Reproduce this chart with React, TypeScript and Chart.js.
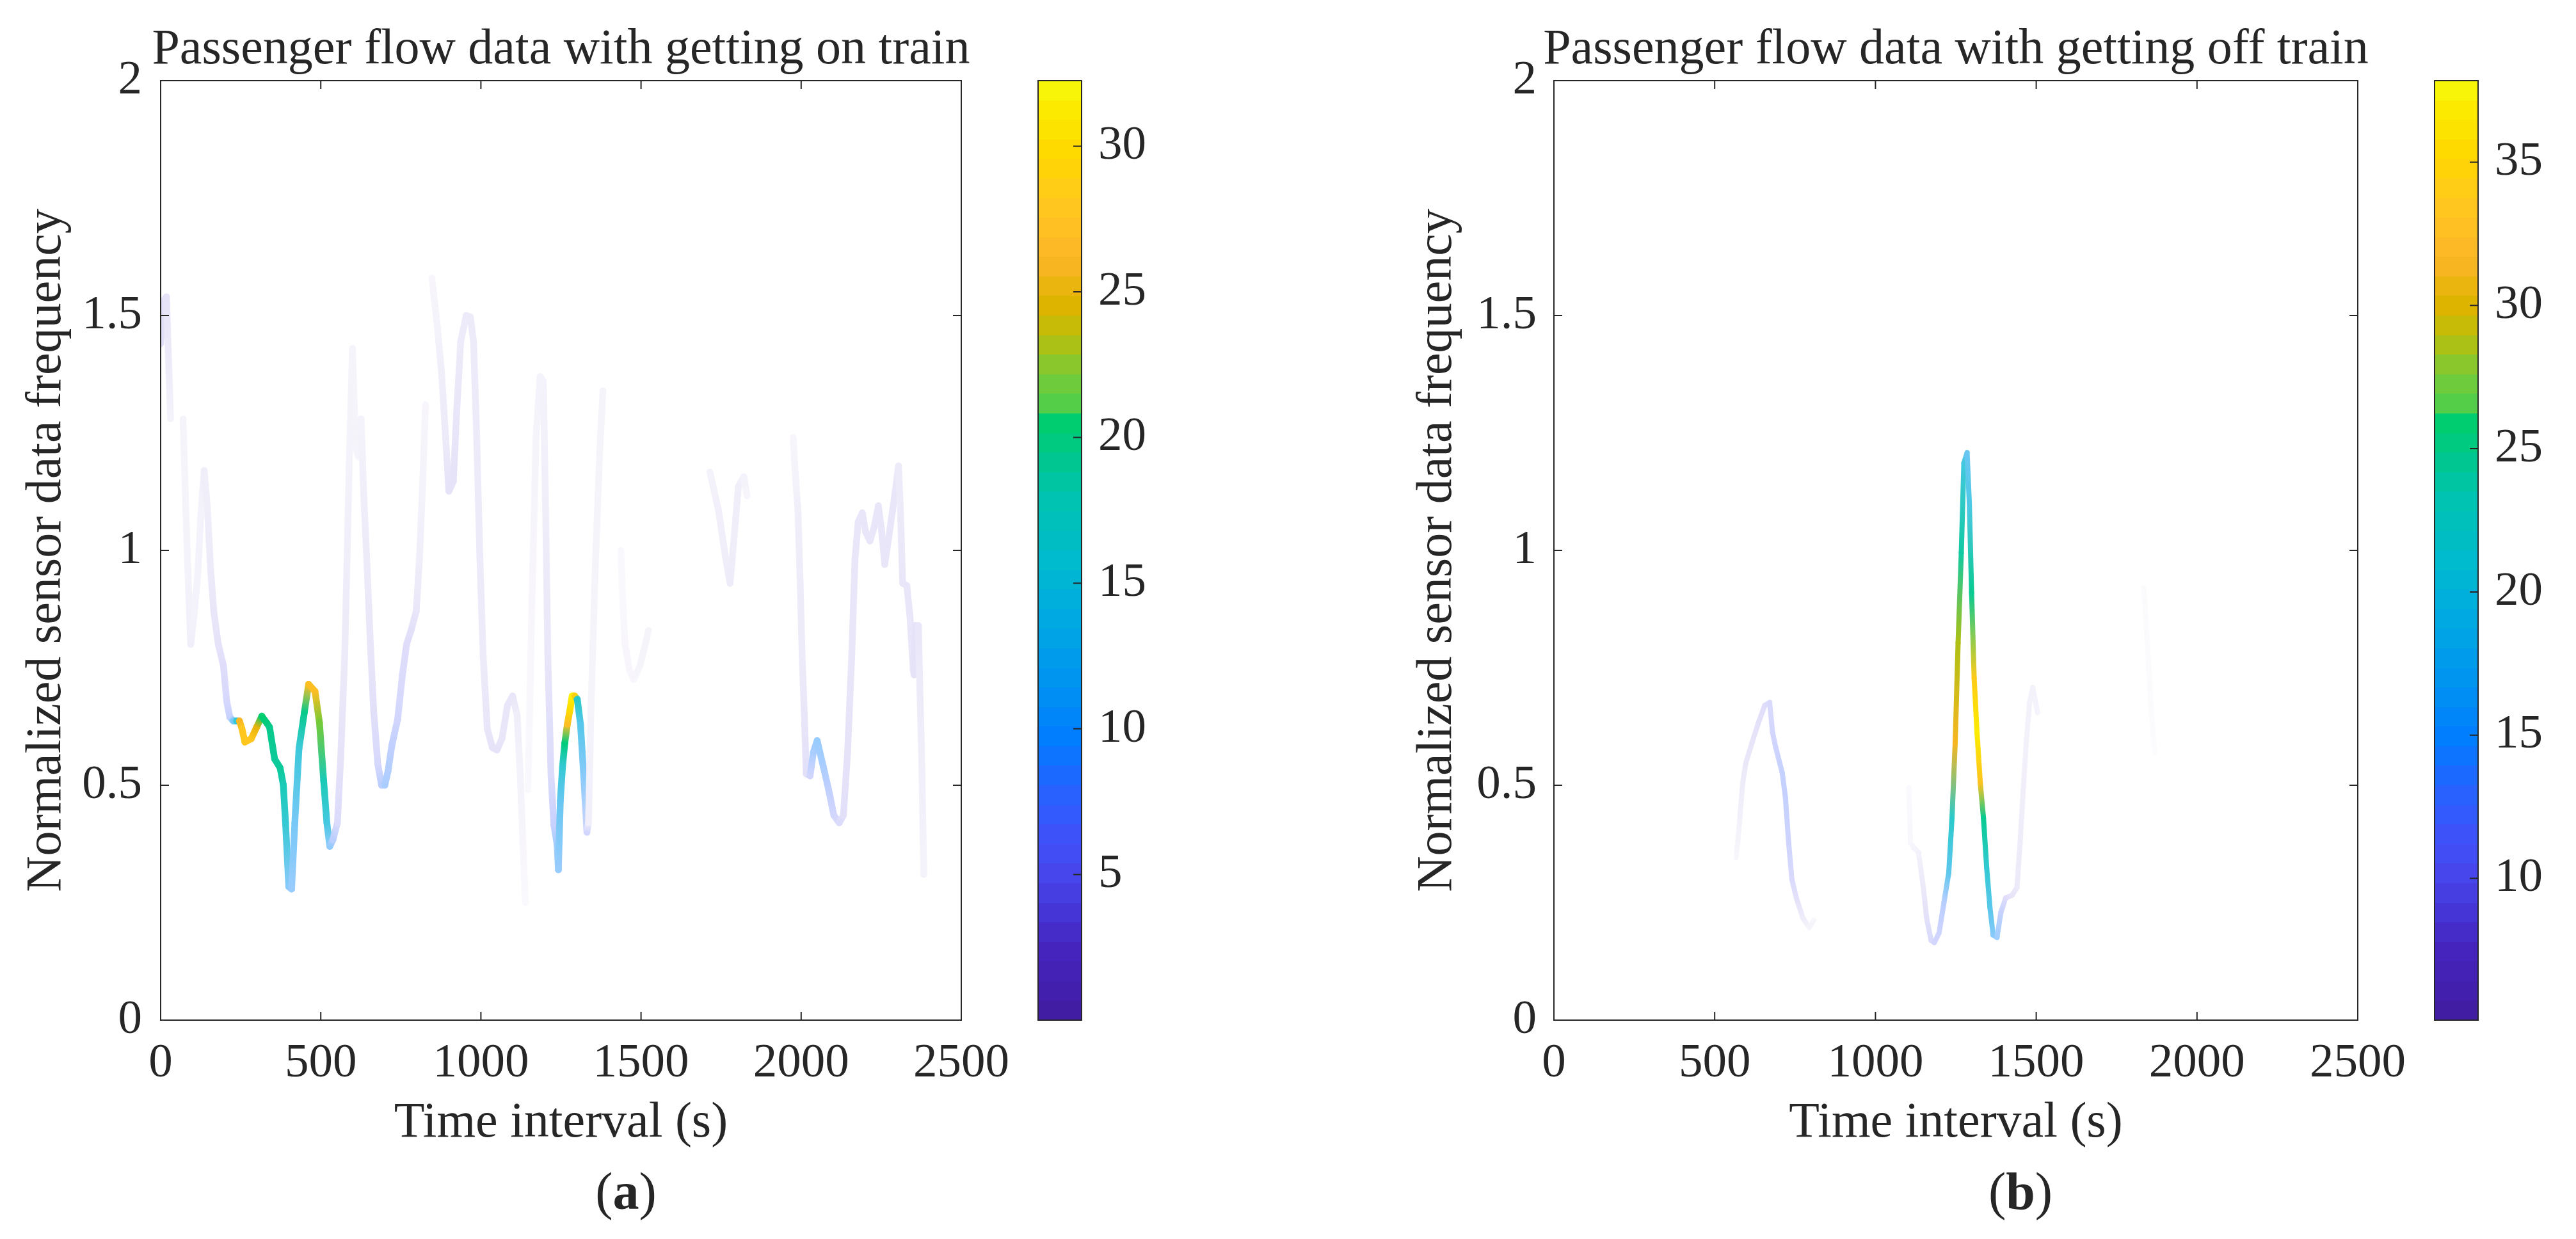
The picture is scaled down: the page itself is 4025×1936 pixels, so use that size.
import React, { useEffect, useRef } from 'react';
import { Chart, registerables } from 'chart.js';

Chart.register(...registerables);

const SERIF = '"Liberation Serif", "Times New Roman", Times, serif';
const INK = '#262626';

// ---------- axes ----------
const xTickValues = [0, 500, 1000, 1500, 2000, 2500];
const yTickValues = [0, 0.5, 1, 1.5, 2];

// ---------- (a) getting on train : time (s), normalized frequency, passenger count (colour) ----------
// null marks a break in the curve
const onTime = [
  0, 8, 18, 24, 31, 50,
  70, 78, 86, 94, 104, 116, 126, 136, 146, 156, 166, 180, 196, 206, 216, 227, 237, 246, 254, 263, 283, 300,
  316, 332, 340, 356, 373, 383, 390, 400, 409, 419, 432, 449, 462, 482, 496, 509, 519, 528, 538, 552, 562,
  575, 582, 589, 599, 609, 618, 626, 634, 645, 655, 665, 678, 690, 700, 710, 722, 740, 755, 768, 782, 798,
  808, 818, 827, 837,
  847, 864, 877, 890, 900, 914, 924, 937, 954, 967, 977, 987, 997, 1007, 1020, 1036, 1050, 1066, 1083,
  1099, 1113, 1123, 1132, 1139, 1143,
  1147, 1159, 1172, 1185, 1195, 1202, 1209, 1219, 1228, 1238, 1242, 1248, 1255, 1262, 1270, 1278, 1285,
  1293, 1301, 1311, 1321, 1331, 1336, 1344, 1358, 1371, 1381, 1400,
  1437, 1444, 1450, 1464, 1477, 1497, 1517, 1523, 1600,
  1715, 1742, 1765, 1778, 1791, 1804, 1821, 1831, 1900,
  1975, 1983, 1990, 1997, 2003, 2010, 2016, 2028, 2038, 2050, 2069, 2086, 2102, 2119, 2132, 2145, 2158,
  2168, 2178, 2191, 2201, 2215, 2228, 2241, 2251, 2261, 2274, 2294, 2304, 2310, 2317, 2330, 2340, 2350,
  2353, 2356, 2366, 2370, 2376, 2383,
];
const onFreq = [
  1.44, 1.53, 1.54, 1.42, 1.28, null,
  1.28, 1.10, 0.94, 0.80, 0.86, 0.95, 1.08, 1.17, 1.09, 0.96, 0.87, 0.80, 0.755, 0.68, 0.645, 0.637, 0.637, 0.637, 0.62, 0.592, 0.599, 0.624,
  0.647, 0.632, 0.624, 0.556, 0.537, 0.501, 0.42, 0.284, 0.279, 0.42, 0.578, 0.656, 0.715, 0.70, 0.633, 0.51, 0.42, 0.37, 0.384, 0.42, 0.556,
  0.78, 0.98, 1.19, 1.43, 1.22, 1.20, 1.28, 1.12, 0.96, 0.80, 0.66, 0.545, 0.50, 0.50, 0.53, 0.585, 0.64, 0.735, 0.80, 0.83, 0.87,
  0.98, 1.14, 1.31, null,
  1.58, 1.476, 1.38, 1.24, 1.126, 1.147, 1.29, 1.445, 1.50, 1.497, 1.445, 1.24, 0.98, 0.776, 0.62, 0.58, 0.575, 0.60, 0.67,
  0.69, 0.65, 0.52, 0.364, 0.25, null,
  0.49, 0.88, 1.24, 1.37, 1.36, 1.085, 0.776, 0.52, 0.415, 0.374, 0.32, 0.467, 0.54, 0.59, 0.63, 0.66, 0.69,
  0.69, 0.683, 0.63, 0.52, 0.40, 0.42, 0.67, 0.98, 1.21, 1.34, null,
  1.0, 0.88, 0.80, 0.745, 0.725, 0.755, 0.81, 0.83, null,
  1.167, 1.085, 0.98, 0.93, 1.03, 1.136, 1.157, 1.116, null,
  1.24, 1.15, 1.085, 0.93, 0.776, 0.65, 0.524, 0.52, 0.57, 0.595, 0.54, 0.49, 0.436, 0.42, 0.436, 0.57, 0.776,
  0.98, 1.06, 1.08, 1.04, 1.02, 1.05, 1.095, 1.044, 0.97, 1.03, 1.126, 1.18, 1.085, 0.93, 0.925, 0.858, 0.745,
  0.735, 0.84, 0.84, 0.725, 0.57, 0.31,
];
const onCount = [
  4, 4, 3.5, 2.5, 1.5, null,
  1.2, 1.2, 1.5, 2, 1.5, 1.5, 1.5, 2, 2, 2.5, 3, 3.5, 4.5, 5.5, 7, 12, 16, 26, 28, 28, 28, 25,
  20.5, 20, 19.5, 19, 19, 18, 16, 11, 10, 12, 15.5, 19.5, 27, 27, 22, 18, 15, 10.5, 8, 5, 3.5,
  2.5, 2, 1.5, 1.2, 1.2, 1.4, 1.5, 2, 2.5, 3, 4, 5.5, 8, 9, 8.5, 7.5, 6, 5, 4.5, 4, 3,
  2, 1.5, 1, null,
  1, 1.5, 2, 2.5, 3.5, 3.5, 3, 2.5, 2.5, 2.5, 2.5, 2.5, 2.5, 2.5, 3, 3.5, 3.5, 3, 3,
  3, 2, 1.5, 1, 0.7, null,
  0.8, 1, 1.2, 1.5, 1.5, 2, 3, 5, 7, 9.5, 10, 13, 16, 20, 27, 30, 31.5,
  29, 17, 14, 11, 6, 2, 1.2, 1.2, 1.2, 1.2, null,
  0.8, 0.8, 1, 1, 1, 1.2, 1.2, 1.2, null,
  1.5, 1.8, 2, 2.2, 2, 2, 1.5, 1, null,
  1, 1.5, 2, 2.2, 2.5, 3, 4, 6, 9, 10, 9, 7.5, 6, 5, 4, 3.5, 3,
  3, 3, 3, 3, 3, 3, 3, 3, 3, 3, 3, 2.5, 2.5, 3, 3, 3, 3,
  3.5, 3.5, 3, 2.5, 2, 1.5,
];

// ---------- (b) getting off train ----------
const offTime = [
  567, 577, 587, 597, 616, 636, 656, 671, 680, 690, 710, 720, 730, 740, 754, 774, 794, 809, 950,
  1104, 1109, 1119, 1134, 1149, 1159, 1173, 1183, 1198, 1213, 1228, 1238, 1248, 1257, 1267, 1275, 1285,
  1292, 1299, 1307, 1316, 1326, 1336, 1346, 1356, 1366, 1378, 1390, 1405, 1425, 1440, 1450, 1459, 1469,
  1479, 1489, 1504, 1700,
  1834, 1842, 1850, 1858, 1868,
];
const offFreq = [
  0.346, 0.42, 0.505, 0.548, 0.59, 0.633, 0.67, 0.676, 0.612, 0.58, 0.527, 0.474, 0.378, 0.30, 0.26, 0.218, 0.197, 0.213, null,
  0.495, 0.378, 0.367, 0.357, 0.282, 0.218, 0.17, 0.165, 0.186, 0.25, 0.314, 0.43, 0.59, 0.803, 0.995, 1.186, 1.208,
  1.10, 0.91, 0.728, 0.611, 0.505, 0.43, 0.324, 0.24, 0.181, 0.176, 0.229, 0.26, 0.266, 0.282, 0.378, 0.484, 0.59,
  0.675, 0.708, 0.655, null,
  0.92, 0.85, 0.75, 0.66, 0.57,
];
const offCount = [
  6.0, 6.7, 7.3, 8.0, 8.3, 9.0, 9.6, 10.3, 11.0, 11.6, 12.3, 12.3, 11.6, 10.3, 9.0, 7.3, 6.4, 6.0, null,
  5.7, 6.0, 6.4, 6.7, 7.7, 9.0, 10.3, 11.0, 11.6, 13.3, 18.8, 22.1, 31.3, 28.7, 24.1, 20.5, 18.2,
  19.8, 24.7, 33.9, 36.9, 32.9, 24.7, 21.5, 19.2, 16.5, 14.9, 12.3, 9.6, 8.3, 7.7, 7.3, 7.0, 6.7,
  6.7, 6.7, 6.4, null,
  5.6, 5.6, 5.6, 5.6, 5.5,
];

// ---------- colour bars ----------
const onColorRange = [0, 32.25];
const offColorRange = [5.05, 37.85];
const onColorTicks = [5, 10, 15, 20, 25, 30];
const offColorTicks = [10, 15, 20, 25, 30, 35];

// colormap anchors (position 0 = bottom of the colour bar)
const cmapPos = [0, 0.075, 0.15, 0.2, 0.25, 0.3, 0.36, 0.43, 0.49, 0.55, 0.6, 0.655, 0.656, 0.694, 0.73, 0.764, 0.81, 0.87, 0.92, 0.97, 1];
const cmapRGB = [
  [64, 28, 160], [68, 36, 190], [72, 68, 235], [60, 84, 250], [35, 100, 255], [0, 125, 255], [0, 148, 240],
  [0, 170, 225], [0, 186, 205], [0, 195, 180], [0, 200, 140], [0, 208, 96], [84, 206, 72], [130, 200, 48],
  [190, 190, 10], [225, 180, 0], [252, 182, 40], [255, 200, 30], [255, 215, 0], [252, 236, 0], [248, 250, 12],
];
// opacity of the curve as a function of the normalised colour value
const alphaPos = [0, 0.3, 0.5, 0.62, 1];
const alphaVal = [0, 0.38, 0.8, 1, 1];

function interp1(xs: number[], ys: number[], x: number) {
  if (x <= xs[0]) return ys[0];
  for (let i = 1; i < xs.length; i++) {
    if (x <= xs[i]) {
      const t = (x - xs[i - 1]) / (xs[i] - xs[i - 1]);
      return ys[i - 1] + (ys[i] - ys[i - 1]) * t;
    }
  }
  return ys[ys.length - 1];
}

function cmap(f: number): number[] {
  const x = Math.max(0, Math.min(1, f));
  let i = 1;
  while (i < cmapPos.length - 1 && x > cmapPos[i]) i++;
  const t = (x - cmapPos[i - 1]) / (cmapPos[i] - cmapPos[i - 1] || 1);
  const a = cmapRGB[i - 1], b = cmapRGB[i];
  return [0, 1, 2].map((k) => a[k] + (b[k] - a[k]) * Math.max(0, Math.min(1, t)));
}

function lineColor(c: number, range: number[]) {
  const f = (c - range[0]) / (range[1] - range[0]);
  const rgb = cmap(f);
  const al = interp1(alphaPos, alphaVal, Math.max(0, Math.min(1, f)));
  const m = rgb.map((v) => Math.round(255 + (v - 255) * al));
  return `rgb(${m[0]},${m[1]},${m[2]})`;
}

// ---------- plugins ----------
const panelDecor = {
  id: 'panelDecor',
  afterDatasetsDraw(chart: any, _args: any, opts: any) {
    const { ctx, chartArea: a } = chart;
    const xs = chart.scales.x, ys = chart.scales.y;
    ctx.save();
    ctx.strokeStyle = INK;
    ctx.lineWidth = 2;
    ctx.strokeRect(a.left, a.top, a.right - a.left, a.bottom - a.top);
    ctx.beginPath();
    xTickValues.forEach((v) => {
      const px = xs.getPixelForValue(v);
      ctx.moveTo(px, a.bottom); ctx.lineTo(px, a.bottom - 13);
      ctx.moveTo(px, a.top); ctx.lineTo(px, a.top + 13);
    });
    yTickValues.forEach((v) => {
      const py = ys.getPixelForValue(v);
      ctx.moveTo(a.left, py); ctx.lineTo(a.left + 13, py);
      ctx.moveTo(a.right, py); ctx.lineTo(a.right - 13, py);
    });
    ctx.stroke();
    ctx.fillStyle = INK;
    ctx.textBaseline = 'alphabetic';
    ctx.textAlign = 'center';
    ctx.font = `78px ${SERIF}`;
    ctx.fillText(opts.title, (a.left + a.right) / 2, opts.titleY);
    const reg = `82px ${SERIF}`, bold = `bold 82px ${SERIF}`;
    ctx.font = reg;
    const wl = ctx.measureText('(').width, wr = ctx.measureText(')').width;
    ctx.font = bold;
    const wm = ctx.measureText(opts.label).width;
    const sx = opts.labelX - (wl + wm + wr) / 2;
    ctx.textAlign = 'left';
    ctx.font = reg; ctx.fillText('(', sx, opts.labelY);
    ctx.font = bold; ctx.fillText(opts.label, sx + wl, opts.labelY);
    ctx.font = reg; ctx.fillText(')', sx + wl + wm, opts.labelY);
    ctx.restore();
  },
};

const colorbarDecor = {
  id: 'colorbarDecor',
  afterDatasetsDraw(chart: any, _args: any, opts: any) {
    const { ctx, chartArea: a } = chart;
    const ys = chart.scales.y;
    ctx.save();
    ctx.strokeStyle = INK;
    ctx.lineWidth = 2;
    ctx.strokeRect(a.left, a.top, a.right - a.left, a.bottom - a.top);
    ctx.beginPath();
    opts.ticks.forEach((v: number) => {
      const py = ys.getPixelForValue(v);
      ctx.moveTo(a.right, py); ctx.lineTo(a.right - 13, py);
    });
    ctx.stroke();
    ctx.restore();
  },
};

// ---------- builders ----------
type PanelSpec = {
  time: number[]; freq: (number | null)[]; count: (number | null)[]; range: number[];
  lineWidth: number; yAxisWidth: number; yTitlePad: number; yTickPad: number;
  title: string; label: string; labelX: number;
};

const CANVAS_H = 1936;
const PLOT_TOP = 126;
const PLOT_BOTTOM = 1594;

function makePanel(canvas: HTMLCanvasElement, p: PanelSpec) {
  const pts = p.time.map((t, i) => ({ x: t, y: p.freq[i] }));
  const colAt = (i: number) => lineColor((p.count[i] ?? p.range[0]) as number, p.range);
  return new Chart(canvas, {
    type: 'line',
    data: {
      datasets: [{
        data: pts as any,
        borderColor: colAt(0),
        borderWidth: p.lineWidth,
        pointRadius: 0,
        pointHoverRadius: 0,
        tension: 0,
        spanGaps: false,
        fill: false,
        borderCapStyle: 'round',
        borderJoinStyle: 'round',
        segment: {
          borderColor: (ctx: any) => {
            const c0 = colAt(ctx.p0DataIndex), c1 = colAt(ctx.p1DataIndex);
            const { p0, p1 } = ctx;
            if (![p0.x, p0.y, p1.x, p1.y].every(Number.isFinite)) return c0;
            const g = ctx.chart.ctx.createLinearGradient(p0.x, p0.y, p1.x, p1.y);
            g.addColorStop(0, c0);
            g.addColorStop(1, c1);
            return g;
          },
          borderDashOffset: (ctx: any) => ctx.p0DataIndex / 1000,
        },
      } as any],
    },
    options: {
      animation: false,
      responsive: false,
      maintainAspectRatio: false,
      devicePixelRatio: 1,
      events: [],
      layout: { padding: { top: PLOT_TOP, right: 93, bottom: 0, left: 0 } },
      plugins: {
        legend: { display: false },
        tooltip: { enabled: false },
        panelDecor: { title: p.title, titleY: 99, label: p.label, labelX: p.labelX, labelY: 1889 },
      } as any,
      scales: {
        x: {
          type: 'linear', min: 0, max: 2500,
          afterBuildTicks: (s: any) => { s.ticks = xTickValues.map((v) => ({ value: v })); },
          afterFit: (s: any) => { s.height = CANVAS_H - PLOT_BOTTOM; },
          ticks: { padding: 23, color: INK, font: { family: SERIF, size: 75 }, callback: (v: any) => String(v), maxRotation: 0, autoSkip: false },
          grid: { display: false, drawTicks: false },
          border: { display: false },
          title: { display: true, text: 'Time interval (s)', color: INK, font: { family: SERIF, size: 78 }, padding: { top: 0, bottom: 134 } },
        },
        y: {
          type: 'linear', min: 0, max: 2,
          afterBuildTicks: (s: any) => { s.ticks = yTickValues.map((v) => ({ value: v })); },
          afterFit: (s: any) => { s.width = p.yAxisWidth; },
          ticks: { padding: p.yTickPad, color: INK, font: { family: SERIF, size: 75 }, callback: (v: any) => String(v) },
          grid: { display: false, drawTicks: false },
          border: { display: false },
          title: { display: true, text: 'Normalized sensor data frequency', color: INK, font: { family: SERIF, size: 78 }, padding: { top: p.yTitlePad, bottom: 0 } },
        },
      },
    } as any,
    plugins: [panelDecor as any],
  });
}

const CB_PAD_LEFT = 10;
const CB_WIDTH = 68;
const CB_CANVAS_W = 240;

function colorbarGradient(chart: any) {
  const a = chart.chartArea;
  if (!a) return '#888';
  const g = chart.ctx.createLinearGradient(0, a.bottom, 0, a.top);
  const N = 48;
  for (let k = 0; k < N; k++) {
    const c = cmap((k + 0.5) / N).map(Math.round);
    const s = `rgb(${c[0]},${c[1]},${c[2]})`;
    g.addColorStop(k / N, s);
    g.addColorStop((k + 1) / N, s);
  }
  return g;
}

function makeColorbar(canvas: HTMLCanvasElement, range: number[], ticks: number[]) {
  return new Chart(canvas, {
    type: 'bar',
    data: {
      labels: ['scale'],
      datasets: [{
        data: [[range[0], range[1]]] as any,
        backgroundColor: (ctx: any) => colorbarGradient(ctx.chart),
        borderWidth: 0,
        barPercentage: 1,
        categoryPercentage: 1,
      }],
    },
    options: {
      animation: false,
      responsive: false,
      maintainAspectRatio: false,
      devicePixelRatio: 1,
      events: [],
      layout: { padding: { top: PLOT_TOP, bottom: CANVAS_H - PLOT_BOTTOM, left: CB_PAD_LEFT, right: 0 } },
      plugins: {
        legend: { display: false },
        tooltip: { enabled: false },
        colorbarDecor: { ticks },
      } as any,
      scales: {
        x: { display: false },
        y: {
          position: 'right', min: range[0], max: range[1],
          afterBuildTicks: (s: any) => { s.ticks = ticks.map((v) => ({ value: v })); },
          afterFit: (s: any) => { s.width = CB_CANVAS_W - CB_PAD_LEFT - CB_WIDTH; },
          ticks: { padding: 26, color: INK, font: { family: SERIF, size: 75 }, callback: (v: any) => String(v) },
          grid: { display: false, drawTicks: false },
          border: { display: false },
        },
      },
    } as any,
    plugins: [colorbarDecor as any],
  });
}

const LEFT_CANVAS = { left: 0, width: 1600 };
const RIGHT_CANVAS = { left: 2160, width: 1622 };
const LEFT_CB_LEFT = 1622 - CB_PAD_LEFT;
const RIGHT_CB_LEFT = 3804 - CB_PAD_LEFT;

export default function App() {
  const aRef = useRef<HTMLCanvasElement>(null);
  const bRef = useRef<HTMLCanvasElement>(null);
  const caRef = useRef<HTMLCanvasElement>(null);
  const cbRef = useRef<HTMLCanvasElement>(null);

  useEffect(() => {
    const charts = [
      makePanel(aRef.current!, {
        time: onTime, freq: onFreq, count: onCount, range: onColorRange, lineWidth: 10.5,
        yAxisWidth: 251, yTitlePad: 27, yTickPad: 29,
        title: 'Passenger flow data with getting on train', label: 'a', labelX: 978,
      }),
      makePanel(bRef.current!, {
        time: offTime, freq: offFreq, count: offCount, range: offColorRange, lineWidth: 8,
        yAxisWidth: 268, yTitlePad: 40, yTickPad: 27,
        title: 'Passenger flow data with getting off train', label: 'b', labelX: 3157 - RIGHT_CANVAS.left,
      }),
      makeColorbar(caRef.current!, onColorRange, onColorTicks),
      makeColorbar(cbRef.current!, offColorRange, offColorTicks),
    ];
    return () => charts.forEach((c) => c.destroy());
  }, []);

  const cv = (left: number, width: number) => ({
    position: 'absolute' as const, left, top: 0, width, height: CANVAS_H, display: 'block',
  });

  return (
    <div style={{ position: 'absolute', left: 0, top: 0, width: 4025, height: 1936, background: '#ffffff', overflow: 'hidden' }}>
      <canvas ref={aRef} width={LEFT_CANVAS.width} height={CANVAS_H} style={cv(LEFT_CANVAS.left, LEFT_CANVAS.width)} />
      <canvas ref={bRef} width={RIGHT_CANVAS.width} height={CANVAS_H} style={cv(RIGHT_CANVAS.left, RIGHT_CANVAS.width)} />
      <canvas ref={caRef} width={CB_CANVAS_W} height={CANVAS_H} style={cv(LEFT_CB_LEFT, CB_CANVAS_W)} />
      <canvas ref={cbRef} width={CB_CANVAS_W} height={CANVAS_H} style={cv(RIGHT_CB_LEFT, CB_CANVAS_W)} />
    </div>
  );
}
